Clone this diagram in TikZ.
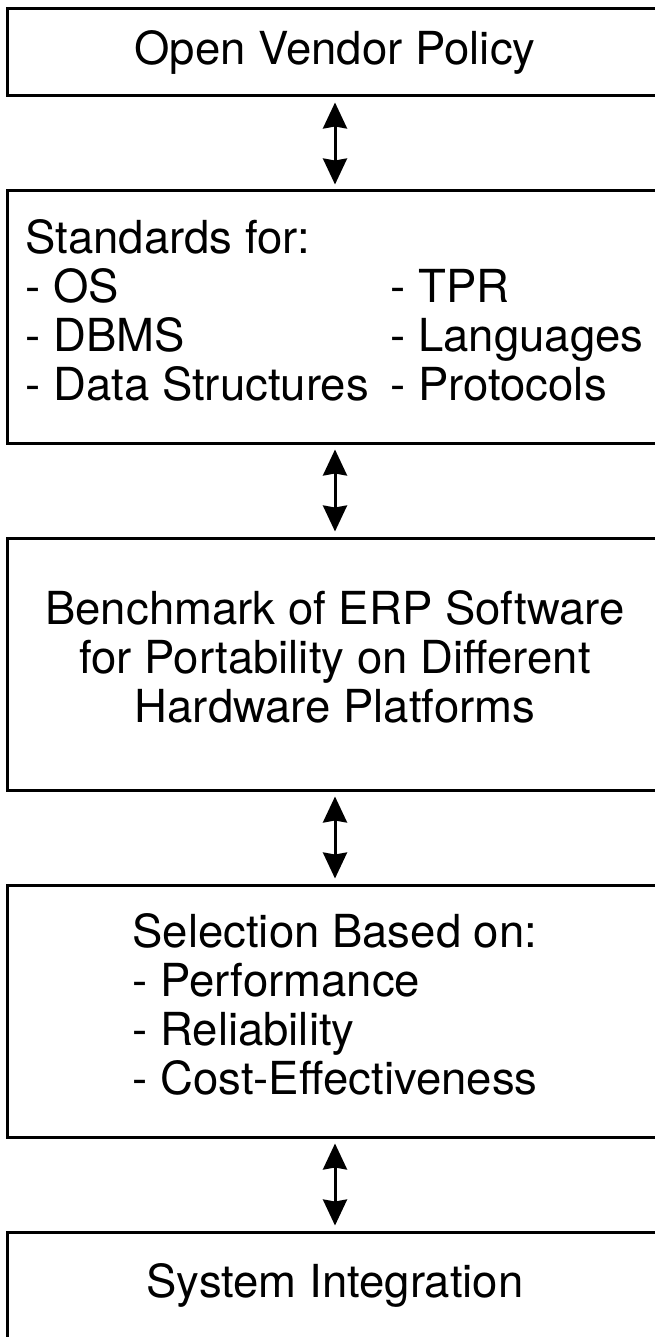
\documentclass[tikz,border=0pt]{standalone}
\usepackage{fontspec}
\setmainfont{TeX Gyre Heros}
\usepackage{tikz}
\usetikzlibrary{arrows.meta, positioning}

\begin{document}
\begin{tikzpicture}[x=1pt, y=-1pt,
        box/.style={draw, line width=3pt, minimum width=700pt,
                     font=\fontsize{45.5}{49}\selectfont, inner sep=0pt},
        arr/.style={{Stealth[length=26pt, width=24pt, inset=2pt]}-{Stealth[length=26pt, width=24pt, inset=2pt]},
                    line width=3pt, shorten <=5pt, shorten >=5pt},
        node distance=92pt
      ]
      \fill[white] (0,0) rectangle (655,1337);
      \useasboundingbox (0,0) rectangle (655,1337);
      \coordinate (axis) at (335,0);

      \node[box, minimum height=87pt] (vendor) at (357,52.5)
        {\hspace*{-44pt}\raisebox{-3pt}{Open Vendor Policy}};
      \node[box, minimum height=252pt, below=of vendor] (std)
        {\hspace*{-44pt}\begin{tabular}{@{}p{365pt}@{}p{254pt}@{}}
           \multicolumn{2}{@{}l}{Standards for:}\\
           - OS & - TPR\\
           - DBMS & - Languages\\
           - Data Structures & - Protocols
         \end{tabular}};
      \node[box, minimum height=252pt, below=of std] (bench)
        {\hspace*{-44pt}\begin{tabular}{@{}c@{}}
           Benchmark of ERP Software\\for Portability on Different\\Hardware Platforms
         \end{tabular}};
      \node[box, minimum height=252pt, below=of bench] (sel)
        {\hspace*{-44pt}\begin{tabular}{@{}l@{}}
           Selection Based on:\\- Performance\\- Reliability\\- Cost-Effectiveness
         \end{tabular}};
      \node[box, minimum height=106pt, below=of sel] (integ)
        {\hspace*{-44pt}System Integration};

      % Wechselwirkung zwischen den Stufen
      \draw[arr] (vendor.south -| axis) -- (std.north -| axis);
      \draw[arr] (std.south -| axis) -- (bench.north -| axis);
      \draw[arr] (bench.south -| axis) -- (sel.north -| axis);
      \draw[arr] (sel.south -| axis) -- (integ.north -| axis);
    \end{tikzpicture}
\end{document}
